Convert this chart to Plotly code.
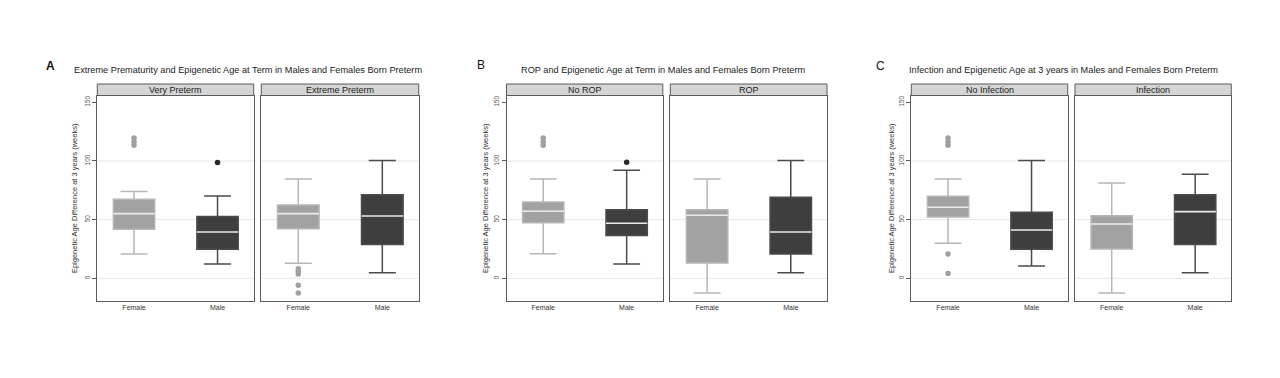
import plotly.graph_objects as go

W, H = 1280, 378
OFF = 8.0  # page body margin in the browser

PANEL_LABELS = ["A", "B", "C"]
TITLES = [
    "Extreme Prematurity and Epigenetic Age at Term in Males and Females Born Preterm",
    "ROP and Epigenetic Age at Term in Males and Females Born Preterm",
    "Infection and Epigenetic Age at 3 years in Males and Females Born Preterm",
]
FACETS = [["Very Preterm", "Extreme Preterm"], ["No ROP", "ROP"], ["No Infection", "Infection"]]
SEXES = ["Female", "Male"]
Y_TITLE = "Epigenetic Age Difference at 3 years (weeks)"
Y_TICKS = [0, 50, 100, 150]
GRID_VALUES = [0, 50, 100]

# [panel][facet][sex]
LOWER = [[[20.7, 12.2], [12.8, 4.8]],
         [[21.0, 12.2], [-12.5, 4.8]],
         [[29.8, 10.5], [-12.5, 4.8]]]
Q1 = [[[41.8, 24.7], [42.3, 28.7]],
      [[47.4, 36.4], [13.1, 20.7]],
      [[52.3, 24.7], [25.0, 28.7]]]
MEDIAN = [[[55.1, 39.5], [55.1, 53.1]],
          [[57.1, 46.9], [53.7, 39.5]],
          [[60.5, 41.2], [46.3, 56.8]]]
Q3 = [[[67.3, 52.6], [62.5, 71.3]],
      [[65.1, 58.5], [58.5, 69.0]],
      [[69.9, 56.3], [53.4, 71.3]]]
UPPER = [[[73.9, 70.2], [84.7, 100.3]],
         [[84.7, 92.0], [84.7, 100.3]],
         [[84.7, 100.3], [81.3, 88.6]]]
OUTLIERS = [[[[119.6, 116.2, 113.4], [98.6]], [[8.2, 6.0, 3.7, -6.0, -12.5], []]],
            [[[119.6, 116.2, 113.4], [98.9]], [[], []]],
            [[[119.6, 116.2, 113.4, 20.7, 4.0], []], [[], []]]]

# layout geometry (pixels in the screenshot)
FACET_PX = [[(97.3, 253.7), (261.3, 418.7)],
            [(506.5, 662.8), (670.3, 827.0)],
            [(911.3, 1067.7), (1075.0, 1231.3)]]
PLOT_TOP, PLOT_BOTTOM, STRIP_TOP = 95.5, 300.7, 84.0
TITLE_X = [248.0, 663.0, 1063.5]
TITLE_Y = 70.0
LABEL_POS = [(50.5, 66.0), (481.0, 65.0), (880.0, 66.0)]
YTITLE_X = [74.0, 485.0, 891.0]

FILL = {"Female": "#a2a2a2", "Male": "#3e3e3e"}
LINE = {"Female": "#b6b6b6", "Male": "#4b4b4b"}
DOT = {"Female": "#a0a0a0", "Male": "#2a2a2a"}
MEDIAN_COLOR = "#e9e9e9"
FRAME = "#5a5a5a"
FONT = "Liberation Sans, Arial, sans-serif"


def px_x(v):
    return (v - OFF) / W


def px_y(v):
    return (H - (v - OFF)) / H


fig = go.Figure()

ydom = [px_y(PLOT_BOTTOM), px_y(PLOT_TOP)]
strip_y1 = px_y(STRIP_TOP)
layout = dict(
    width=W, height=H, margin=dict(l=0, r=0, t=0, b=0),
    paper_bgcolor="white", plot_bgcolor="white", showlegend=False,
    font=dict(family=FONT, color="#333"),
)
shapes, annotations = [], []

k = 0
for p in range(3):
    for f in range(2):
        k += 1
        xa = "x" if k == 1 else f"x{k}"
        ya = "y" if k == 1 else f"y{k}"
        xkey = "xaxis" if k == 1 else f"xaxis{k}"
        ykey = "yaxis" if k == 1 else f"yaxis{k}"
        x0, x1 = FACET_PX[p][f]
        layout[xkey] = dict(
            domain=[px_x(x0), px_x(x1)], anchor=ya, range=[-0.44, 1.433],
            tickmode="array", tickvals=[0, 1], ticktext=SEXES, ticks="",
            tickfont=dict(size=7, color="#333", family=FONT),
            showgrid=False, zeroline=False, showline=True, mirror=True,
            linecolor=FRAME, linewidth=1, fixedrange=True,
        )
        layout[ykey] = dict(
            domain=ydom, anchor=xa, range=[-19.1, 155.8],
            tickmode="array", tickvals=Y_TICKS, showticklabels=(f == 0),
            ticks="outside" if f == 0 else "", ticklen=4, tickcolor=FRAME,
            tickangle=-90, tickfont=dict(size=6.5, color="#555", family=FONT),
            showgrid=False, zeroline=False, showline=True, mirror=True,
            linecolor=FRAME, linewidth=1, fixedrange=True,
        )
        for v in GRID_VALUES:
            shapes.append(dict(type="line", xref=f"{xa} domain", yref=ya,
                               x0=0, x1=1, y0=v, y1=v, layer="below",
                               line=dict(color="#e6e6e6", width=1)))
        # strip
        shapes.append(dict(type="rect", xref=f"{xa} domain", yref="paper",
                           x0=0, x1=1, y0=ydom[1], y1=strip_y1,
                           fillcolor="#d5d5d5", line=dict(color=FRAME, width=1)))
        annotations.append(dict(xref=f"{xa} domain", yref="paper", x=0.5,
                                y=(ydom[1] + strip_y1) / 2, text=FACETS[p][f],
                                showarrow=False, xanchor="center", yanchor="middle",
                                font=dict(size=9, color="#222", family=FONT)))
        for s, sex in enumerate(SEXES):
            fig.add_trace(go.Box(
                x=[s], q1=[Q1[p][f][s]], median=[MEDIAN[p][f][s]], q3=[Q3[p][f][s]],
                lowerfence=[LOWER[p][f][s]], upperfence=[UPPER[p][f][s]],
                xaxis=xa, yaxis=ya, width=0.495, whiskerwidth=0.65,
                fillcolor=FILL[sex], line=dict(color=LINE[sex], width=1.5),
                boxpoints=False, hoverinfo="skip",
            ))
            # median line overlay (white)
            med = MEDIAN[p][f][s]
            fig.add_trace(go.Box(
                x=[s], q1=[med], median=[med], q3=[med],
                lowerfence=[med], upperfence=[med],
                xaxis=xa, yaxis=ya, width=0.495, whiskerwidth=0,
                fillcolor="rgba(0,0,0,0)", line=dict(color=MEDIAN_COLOR, width=1.6),
                boxpoints=False, hoverinfo="skip",
            ))
            outs = OUTLIERS[p][f][s]
            if outs:
                fig.add_trace(go.Scatter(
                    x=[s] * len(outs), y=outs, mode="markers", xaxis=xa, yaxis=ya,
                    marker=dict(color=DOT[sex], size=5.5, line=dict(width=0)),
                    hoverinfo="skip",
                ))
    # panel title, label, y title
    annotations.append(dict(xref="paper", yref="paper", x=px_x(TITLE_X[p]),
                            y=px_y(TITLE_Y), text=TITLES[p], showarrow=False,
                            xanchor="center", yanchor="middle",
                            font=dict(size=9.2, color="#222", family=FONT)))
    lx, ly = LABEL_POS[p]
    annotations.append(dict(xref="paper", yref="paper", x=px_x(lx), y=px_y(ly),
                            text=f"<b>{PANEL_LABELS[p]}</b>" if p == 0 else PANEL_LABELS[p],
                            showarrow=False, xanchor="center", yanchor="middle",
                            font=dict(size=12, color="#111", family=FONT)))
    annotations.append(dict(xref="paper", yref="paper", x=px_x(YTITLE_X[p]),
                            y=(ydom[0] + ydom[1]) / 2, text=Y_TITLE, textangle=-90,
                            showarrow=False, xanchor="center", yanchor="middle",
                            font=dict(size=7.5, color="#333", family=FONT)))

layout["shapes"] = shapes
layout["annotations"] = annotations
fig.update_layout(**layout)
fig.write_html("out.html")
